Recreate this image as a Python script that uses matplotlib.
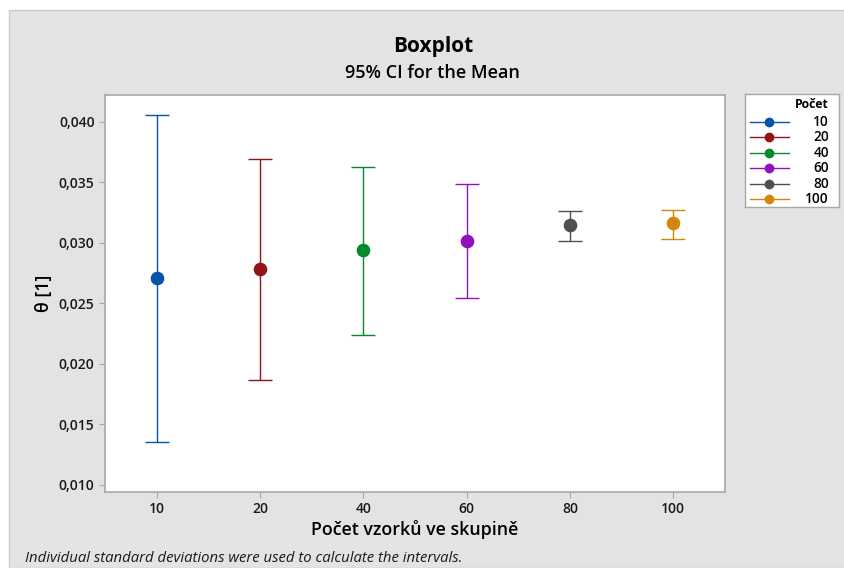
import matplotlib.pyplot as plt
from matplotlib.patches import Rectangle
from matplotlib.lines import Line2D
from matplotlib.ticker import FuncFormatter

plt.rcParams['font.family'] = ['Open Sans', 'DejaVu Sans']

# data (95% CI for the mean)
groups = ['10', '20', '40', '60', '80', '100']
means = [0.02707, 0.02781, 0.02938, 0.03017, 0.03147, 0.03159]
lower = [0.01358, 0.01867, 0.02236, 0.02544, 0.03017, 0.03031]
upper = [0.04055, 0.03690, 0.03626, 0.03486, 0.03265, 0.03273]
colors = ['#0454a8', '#941316', '#038a2c', '#9111bd', '#4f4f4f', '#d5860a']
yticks = [0.010, 0.015, 0.020, 0.025, 0.030, 0.035, 0.040]

W, H = 845, 568
fig = plt.figure(figsize=(W / 100, H / 100), dpi=100, facecolor='white')

# grey panel behind everything
fig.patches.append(Rectangle((9 / W, 0), 1 - 9 / W, 1 - 10 / H, transform=fig.transFigure,
                             facecolor='#e3e3e3', edgecolor='#cccccc', lw=1, zorder=-10))

ax = fig.add_axes([105 / W, (H - 492) / H, 620 / W, 397 / H])
ax.set_facecolor('white')

for i, g in enumerate(groups):
    ax.errorbar(i, means[i], yerr=[[means[i] - lower[i]], [upper[i] - means[i]]],
                fmt='o', color=colors[i], ms=8.8, elinewidth=1.0, capsize=8.3,
                capthick=1.0, zorder=3)

ax.set_xlim(-0.5, 5.5)
ax.set_ylim(0.00942, 0.04220)
ax.set_xticks(range(len(groups)))
ax.set_xticklabels(groups)
ax.set_yticks(yticks)
ax.yaxis.set_major_formatter(FuncFormatter(lambda v, p: f'{v:.3f}'.replace('.', ',')))

for s in ax.spines.values():
    s.set_color('#a8a8a8')
    s.set_linewidth(1.2)
ax.tick_params(axis='both', colors='#a8a8a8', length=4, width=0.8, labelcolor='#1a1a1a',
               labelsize=10)
ax.tick_params(axis='x', pad=3)
for lab in ax.get_xticklabels() + ax.get_yticklabels():
    lab.set_fontweight('semibold')

ax.set_xlabel('Počet vzorků ve skupině', fontsize=12.8, fontweight='semibold', labelpad=3)
ax.set_ylabel('θ [1]', fontsize=12.8, fontweight='semibold', labelpad=4)

fig.text(433 / W, 1 - 46.5 / H, 'Boxplot', ha='center', va='center', fontsize=15,
         fontweight='bold')
fig.text(432.5 / W, 1 - 72.5 / H, '95% CI for the Mean', ha='center', va='center', fontsize=13,
         fontweight='semibold')
fig.text(25 / W, 1 - 558 / H, 'Individual standard deviations were used to calculate the intervals.',
         ha='left', va='center', fontsize=10.7, style='italic', color='#1a1a1a')

# legend box drawn as its own small axes
lax = fig.add_axes([745 / W, (H - 207) / H, 94 / W, 113 / H])
lax.set_xlim(0, 94)
lax.set_ylim(113, 0)
lax.set_xticks([])
lax.set_yticks([])
for s in lax.spines.values():
    s.set_color('#a8a8a8')
    s.set_linewidth(1.0)
lax.text(84, 11, 'Počet', ha='right', va='center', fontsize=8.8, fontweight='bold')
for i, g in enumerate(groups):
    y = 28 + i * 15.4
    lax.add_line(Line2D([5, 44], [y, y], color=colors[i], lw=1.0))
    lax.plot([24], [y], 'o', color=colors[i], ms=6)
    lax.text(84, y, g, ha='right', va='center', fontsize=9.8, fontweight='semibold')

fig.savefig('out.png', dpi=100, facecolor=fig.get_facecolor())
